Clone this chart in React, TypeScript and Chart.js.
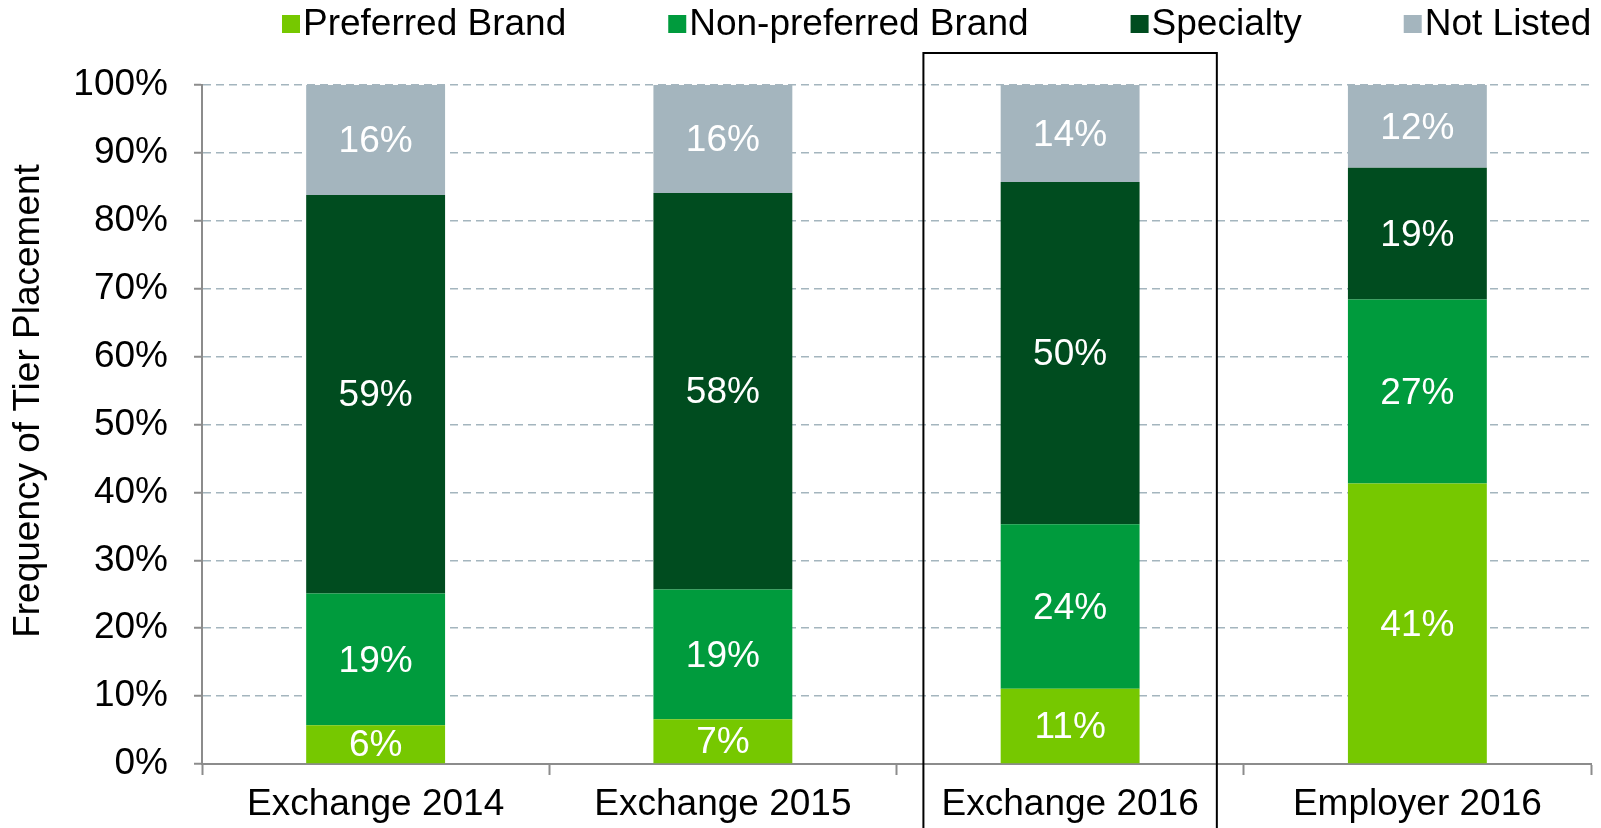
import React, { useEffect, useRef } from "react";
import { Chart, registerables } from "chart.js";

Chart.register(...registerables);

const categories = ["Exchange 2014", "Exchange 2015", "Exchange 2016", "Employer 2016"];
const seriesNames = ["Preferred Brand", "Non-preferred Brand", "Specialty", "Not Listed"];
const preferredBrand = [5.7, 6.6, 11.1, 41.3];
const nonPreferredBrand = [19.4, 19.1, 24.2, 27.1];
const specialty = [58.7, 58.4, 50.4, 19.4];
const notListed = [16.2, 15.9, 14.3, 12.2];
const seriesColors = ["#76C800", "#009B3D", "#004C1F", "#A4B5BE"];
const highlightedCategory = "Exchange 2016";
const yAxisTitle = "Frequency of Tier Placement";
const yMin = 0;
const yMax = 100;
const yStep = 10;

const FONT_FAMILY = '"Liberation Sans", Arial, Helvetica, sans-serif';
const FONT_SIZE = 37;
const FONT = `${FONT_SIZE}px ${FONT_FAMILY}`;

const overlayPlugin = {
  id: "overlay",
  afterDatasetsDraw(chart: any) {
    const ctx = chart.ctx;
    ctx.save();
    ctx.font = FONT;
    ctx.fillStyle = "#ffffff";
    ctx.textAlign = "center";
    ctx.textBaseline = "middle";
    chart.data.datasets.forEach((ds: any, di: number) => {
      const meta = chart.getDatasetMeta(di);
      meta.data.forEach((el: any, i: number) => {
        const v = ds.data[i];
        const cy = (el.y + el.base) / 2;
        ctx.fillText(Math.round(v) + "%", el.x, cy + 2);
      });
    });
    ctx.restore();
  },
  afterDraw(chart: any) {
    const ctx = chart.ctx;
    const xs = chart.scales.x;
    const ys = chart.scales.y;
    ctx.save();
    // legend
    ctx.font = FONT;
    ctx.textAlign = "left";
    ctx.textBaseline = "alphabetic";
    let x = 282;
    seriesNames.forEach((name, i) => {
      ctx.fillStyle = seriesColors[i];
      ctx.fillRect(x, 15, 18, 18);
      ctx.fillStyle = "#000000";
      ctx.fillText(name, x + 21, 35);
      x += 21 + ctx.measureText(name).width + 102;
    });
    // y axis title
    ctx.save();
    ctx.translate(29, 401);
    ctx.rotate(-Math.PI / 2);
    ctx.textAlign = "center";
    ctx.textBaseline = "middle";
    ctx.fillStyle = "#000000";
    ctx.fillText(yAxisTitle, 0, 0);
    ctx.restore();
    // highlight box
    const idx = categories.indexOf(highlightedCategory);
    const cx = xs.getPixelForValue(idx);
    const cw = xs.getPixelForValue(1) - xs.getPixelForValue(0);
    const half = cw * 0.4225;
    const top = ys.getPixelForValue(yMax) - 32;
    ctx.strokeStyle = "#000000";
    ctx.lineWidth = 2;
    ctx.beginPath();
    ctx.moveTo(cx - half, chart.height + 5);
    ctx.lineTo(cx - half, top);
    ctx.lineTo(cx + half, top);
    ctx.lineTo(cx + half, chart.height + 5);
    ctx.stroke();
    ctx.restore();
  },
};

export default function App() {
  const ref = useRef<HTMLCanvasElement | null>(null);

  useEffect(() => {
    if (!ref.current) return;
    const values = [preferredBrand, nonPreferredBrand, specialty, notListed];
    const chart = new Chart(ref.current, {
      type: "bar",
      data: {
        labels: categories,
        datasets: seriesNames.map((name, i) => ({
          label: name,
          data: values[i],
          backgroundColor: seriesColors[i],
          borderWidth: 0,
          categoryPercentage: 1,
          barPercentage: 0.4,
        })),
      },
      options: {
        responsive: false,
        animation: false,
        layout: { padding: { top: 85, right: 10, bottom: 0, left: 0 } },
        plugins: {
          legend: { display: false },
          tooltip: { enabled: false },
        },
        scales: {
          x: {
            stacked: true,
            grid: {
              offset: true,
              drawOnChartArea: false,
              drawTicks: true,
              tickLength: 11,
              tickColor: "#8C8C8C",
              tickWidth: 2,
            },
            border: { display: true, color: "#8C8C8C", width: 2 },
            ticks: {
              color: "#000000",
              font: { family: FONT_FAMILY, size: FONT_SIZE },
              padding: 8,
              maxRotation: 0,
              autoSkip: false,
            },
            afterFit(scale: any) {
              scale.height = 64;
            },
          },
          y: {
            stacked: true,
            min: yMin,
            max: yMax,
            grid: {
              color: "#A4B5BE",
              lineWidth: 1.5,
              drawTicks: true,
              tickLength: 8,
              tickColor: "#8C8C8C",
              tickWidth: 2,
              tickBorderDash: [],
            },
            border: { display: true, color: "#8C8C8C", width: 2, dash: [8, 5] },
            ticks: {
              stepSize: yStep,
              color: "#000000",
              font: { family: FONT_FAMILY, size: FONT_SIZE },
              padding: 26,
              callback: (v: any) => v + "%",
            },
            afterFit(scale: any) {
              scale.width = 202;
            },
          },
        },
      },
      plugins: [overlayPlugin],
    });
    return () => chart.destroy();
  }, []);

  return (
    <div style={{ position: "fixed", left: 0, top: 0, width: 1601, height: 828, overflow: "hidden", background: "#fff" }}>
      <canvas ref={ref} width={1601} height={828} style={{ display: "block" }} />
    </div>
  );
}
